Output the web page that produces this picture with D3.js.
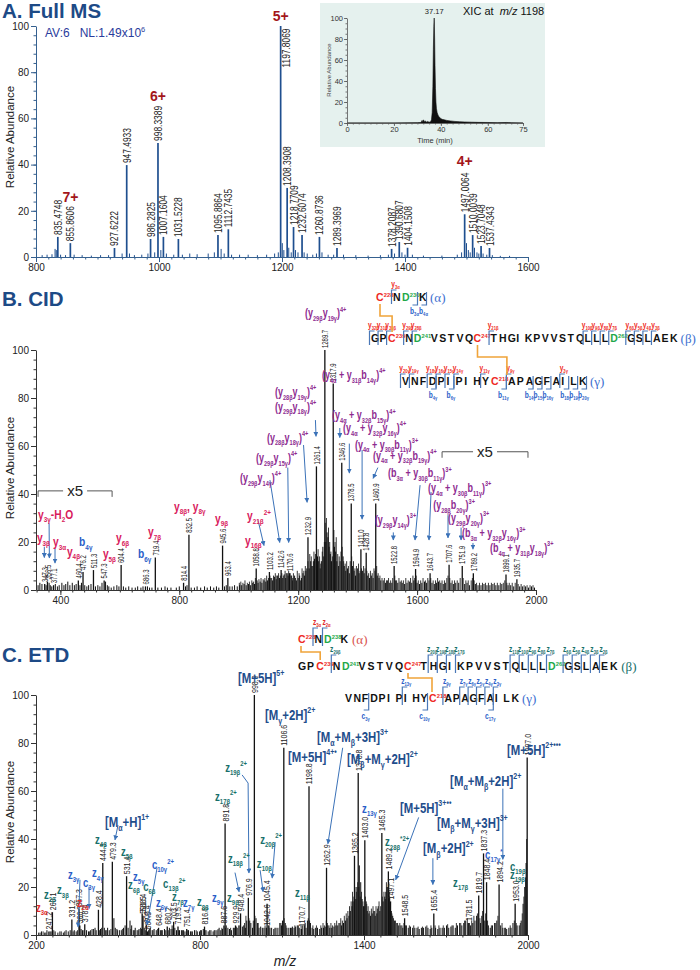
<!DOCTYPE html>
<html><head><meta charset="utf-8">
<script src="https://cdn.jsdelivr.net/npm/d3@7"></script>
<style>
html,body{margin:0;padding:0;background:#fff;}
svg{display:block;font-family:"Liberation Sans",Arial,Helvetica,sans-serif;}
text{white-space:pre;}
</style></head><body>
<svg id="fig" width="700" height="970"></svg>
<script>
// ======================= DATA =======================
// ---- Panel A: Full MS ----
const fullMsTicksX = [800, 1000, 1200, 1400, 1600];
const yTicks = [0, 20, 40, 60, 80, 100];
const fullMsLabels = ["835.4748","855.8606","927.6222","947.4933","986.2825","998.3389","1007.1604","1031.5228","1095.8864","1112.7435","1197.8069","1208.3908","1218.7709","1232.6074","1260.8736","1289.3969","1378.2087","1390.6807","1404.1508","1497.0064","1510.0039","1523.7048","1537.4343"];
const fullMsInt = [8.7, 6, 3.9, 39.8, 7.8, 49.4, 8.7, 7.8, 9.5, 12, 100, 29.9, 13, 9.5, 8.7, 3.9, 3.5, 6.5, 4, 18.5, 9.5, 4.8, 3.9];
const fullMsMinor = [[810,0.8],[818,1],[826,1.2],[831,3.5],[833,3],[840,1],[848,0.8],[862,1],[875,0.8],[890,0.6],[905,0.8],[918,0.8],[940,1.5],[952,1.5],[960,0.8],[972,1],[982,1.5],[993,2],[1003,3],[1012,1.5],[1024,1],[1038,1],[1050,1.5],[1062,1.2],[1080,1.5],[1090,2],[1101,3.5],[1106,1.5],[1118,1],[1131,1],[1145,1],[1160,0.8],[1175,1],[1188,1.5],[1194,2],[1200.5,6],[1203,3],[1211,4],[1215,2],[1222,3],[1226,2],[1236,2],[1241,1.5],[1250,1],[1256,1.5],[1265,2],[1275,1],[1284,1],[1300,1],[1320,0.8],[1340,0.6],[1360,0.8],[1373,1],[1383,1.5],[1395,2],[1400,1],[1412,1],[1430,0.6],[1460,0.6],[1485,1],[1492,2],[1500,6],[1503,3],[1506,2],[1513,4],[1517,2],[1520,1.5],[1527,1.5],[1533,1],[1542,0.8],[1555,0.5],[1570,0.5]];
const fullMsCharge = ["7+", "6+", "5+", "4+"];
const fullMsChargeMz = [855.9, 998.3, 1197.8, 1497.0];
const fullMsChargeY = [23.8, 67.5, 102, 39.4];
// XIC inset
const xicTicksX = [0, 20, 40, 60, 75];
const xicTime = [0,10,20,30,31.5,32,32.3,32.6,33,33.4,33.8,34.3,35,35.6,36,36.3,36.6,36.8,37,37.17,37.35,37.5,37.7,37.9,38.1,38.4,38.8,39.2,39.8,40.5,41.5,42.5,44,46,48,50,53,56,60,64,68,70,75];
const xicInt  = [0,0,0,0.3,0.5,2.5,0.8,3,1.2,2,0.8,1.5,0.8,1.2,3,10,35,70,92,100,80,55,33,20,14,10,7.5,6,4.5,3.5,3,2.5,2,1.5,1.2,1,0.8,0.6,0.5,0.3,0.5,0.2,0];

// ---- Panel B: CID ----
const cidTicksX = [400, 800, 1200, 1600, 2000];
const cidPeakLabels = ["347.3","356.5","377.1","460.4","476.2","511.3","547.3","604.4","686.3","719.4","814.4","832.5","945.6","963.4","1058.8","1103.2","1142.6","1170.6","1232.9","1261.4","1289.7","1317.9","1346.6","1378.5","1411.0","1428.8","1460.9","1522.8","1594.9","1643.7","1707.6","1751.9","1789.2","1899.1","1935.7"];
const cidPeakInt = [2.5,3.5,2,4,7.5,8.3,4,10.4,1.5,13.5,3,23,18.5,5,9,7.5,8.3,7,22,51.5,100,86,53,36,17,15.5,36,10,8.75,7,10.5,10,7,6.5,4.5];
const cidMinor = [[325,2],[331,3],[338,2.5],[352,2],[362,3],[366,2],[371,1.5],[383,2.5],[390,1.5],[396,2],[405,3],[412,2],[418,2.5],[425,3.5],[432,2],[440,3],[447,2],[453,2.5],[466,2],[471,3],[482,2],[489,1.5],[495,2],[503,2.5],[518,1.5],[526,2],[533,1.5],[540,3],[552,3.5],[558,2],[563,1.5],[571,1],[580,1.5],[590,2],[597,1.5],[612,1.5],[620,1],[630,1.5],[641,1],[652,1],[660,1.5],[671,1],[678,1.5],[693,1.5],[700,1],[708,1],[728,1],[740,1],[752,1.5],[760,1],[772,1],[790,1],[800,1.5],[821,1.5],[826,2],[840,1],[851,1],[860,1.5],[872,1],[885,1.5],[894,1],[905,1.5],[916,1],[925,1.5],[933,1],[952,1.5],[958,2],[970,1.5],[978,1.5],[986,2],[995,1.5],[1003,2],[1010,2],[1018,2.5],[1025,2],[1033,2.5],[1040,2],[1047,3],[1053,2.5],[1065,3],[1072,3.5],[1078,3],[1085,4],[1091,3.5],[1097,4],[1108,5],[1114,4],[1120,5.5],[1126,4.5],[1131,6],[1137,5],[1148,5],[1153,6.5],[1158,5],[1163,7],[1166,6],[1176,6],[1182,5],[1188,6],[1194,4],[1200,5],[1205,6],[1211,5],[1216,7],[1221,6],[1226,8],[1229,9],[1237,9],[1242,12],[1246,10],[1251,12],[1255,13],[1265,14],[1269,12],[1274,9],[1278,12],[1283,18],[1286,14],[1293,20],[1297,24],[1300,22],[1304,18],[1308,15],[1312,12],[1322,18],[1326,16],[1330,12],[1336,10],[1341,12],[1351,14],[1355,10],[1360,8],[1366,9],[1372,7],[1383,10],[1388,8],[1393,6],[1400,9],[1405,7],[1416,8],[1422,7],[1434,6],[1440,5],[1446,6],[1452,5],[1466,6],[1472,5],[1478,4],[1486,4],[1494,3],[1500,4],[1508,3],[1515,3],[1528,4],[1535,3],[1543,3.5],[1550,3],[1558,2.5],[1566,3],[1574,3.5],[1582,3],[1589,4],[1600,3],[1608,2.5],[1616,3],[1625,3.5],[1632,3],[1650,3],[1658,2.5],[1665,3],[1672,3.5],[1680,3],[1688,2.5],[1695,3],[1714,3],[1722,2.5],[1730,3],[1740,3],[1760,2.5],[1768,3],[1776,2],[1796,2.5],[1805,2],[1815,2],[1825,2.5],[1835,2],[1845,2],[1855,2.5],[1865,2],[1875,2],[1885,2.5],[1906,2],[1915,2],[1925,1.5],[1945,1.5],[1955,1.5],[1965,1.5],[1975,1],[1985,1.5],[1995,1]];
const cidGrass = [[1002,3],[1007,3.5],[1014,3],[1021,4],[1029,3],[1036,3.5],[1044,4],[1050,3.5],[1056,5],[1062,4],[1068,4.5],[1075,5],[1082,4.5],[1088,5],[1094,6],[1100,5],[1105,6],[1111,5],[1117,6],[1123,7],[1128,6],[1134,7],[1140,6],[1145,7],[1150,6],[1156,8],[1160,7],[1168,8],[1173,7],[1178,6],[1181,4],[1184,7],[1191,5],[1197,8],[1203,7],[1208,4],[1213,9],[1219,8],[1224,10],[1233,12],[1239,15],[1244,14],[1249,10],[1253,16],[1258,15],[1263,12],[1267,17],[1272,14],[1276,11],[1281,16],[1288,20],[1291,28],[1295,30],[1302,26],[1306,20],[1310,16],[1315,14],[1320,25],[1324,20],[1328,22],[1333,15],[1338,14],[1344,16],[1348,18],[1353,12],[1358,11],[1363,12],[1369,10],[1375,12],[1380,14],[1386,12],[1391,9],[1396,10],[1403,11],[1408,8],[1413,9],[1420,10],[1425,9],[1431,8],[1437,7],[1443,8],[1449,7],[1455,9],[1458,8],[1464,10],[1469,7],[1475,6],[1482,5],[1490,5],[1497,4],[1504,5],[1511,4],[1518,5],[1525,6],[1531,4],[1539,5],[1547,4],[1554,4],[1562,5],[1570,4],[1578,5],[1586,6],[1592,5],[1597,6],[1604,4],[1612,4],[1620,5],[1628,4],[1636,5],[1640,4],[1646,5],[1654,4],[1662,4],[1669,5],[1676,4],[1684,4],[1692,4],[1700,5],[1704,6],[1710,5],[1718,4],[1726,4],[1735,4],[1745,5],[1755,5],[1764,4],[1772,4],[1782,4],[1786,5],[1792,4],[1800,3],[1810,3],[1820,3],[1830,3],[1840,3],[1850,3],[1860,3],[1870,3],[1880,3],[1890,3],[1895,4],[1902,3],[1910,3],[1920,3],[1930,3],[1940,2.5],[1950,2.5],[1960,2],[1970,2],[1980,2],[1990,2]];
// annotations: [text, m/z, rel. abundance, colour key]
const cidIonLabels = [
  ["y_{3γ}-H_{2}O",325,29.6,"y"],["y_{3β}",321,20,"y"],["y_{3α}",375,18.3,"y"],["y_{4β}",422,14.2,"y"],
  ["b_{4γ}",463,18.3,"b"],["y_{5β}",543,13.3,"y"],["y_{6β}",587,20,"y"],["b_{6γ}",661,13.3,"b"],
  ["y_{7β}",695,22.5,"y"],["y_{8β}, y_{8γ}",782,33,"y"],["y_{9β}",920,28,"y"],["y_{21β}^{2+}",1028,29,"y"],["y_{16β}",1021,18.8,"y"]];
const cidXlLabels = [
  ["(y_{29β}y_{19γ})^{4+}",1223,113.7],["(y_{4α} + y_{31β}b_{14γ})^{4+}",1280,87.9],["(y_{28β}y_{19γ})^{4+}",1122,80.8],
  ["(y_{29β}y_{18γ})^{4+}",1122,74.6],["(y_{28β}y_{18γ})^{4+}",1095,61.7],["(y_{29β}y_{15γ})^{4+}",1058,53.3],
  ["(y_{29β}y_{14γ})^{4+}",1004,45],["(y_{4α} + y_{32β}b_{15γ})^{4+}",1314,71.2],["(y_{4α} + y_{32β}y_{16γ})^{4+}",1351,65.8],
  ["(y_{4α} + y_{30β}b_{11γ})^{3+}",1391,58.9],["(y_{4α} + y_{32β}b_{19γ})^{4+}",1452,54.2],["(b_{3α} + y_{30β}b_{11γ})^{3+}",1502,47],
  ["(y_{4α} + y_{30β}b_{11γ})^{3+}",1637,40.8],["(y_{28β}b_{20γ})^{3+}",1654,33.7],["(y_{29β}y_{14γ})^{3+}",1458,27.5],
  ["(y_{29β}y_{20γ})^{3+}",1704,28.3],["(b_{3α} + y_{32β}y_{16γ})^{3+}",1751,22],["(b_{4α} + y_{31β}y_{18γ})^{3+}",1845,15.8]];
const cidArrows = [
  [[346,18],[346,13.5]],[[362,28],[363,13.3]],[[382,17.5],[382,11.2]],[[1065,29],[1085,18.5]],
  [[1258,70.8],[1260,64]],[[1218,60.4],[1230,36.5]],[[1165,51],[1168,19.8]],[[1105,45.8],[1138,19.8]],
  [[1340,67.5],[1340,63.5]],[[1372,61],[1372,48.7]],[[1415,58.3],[1415,29.5]],[[1468,51],[1452,46.5]],
  [[1610,43.7],[1593,20.8]],[[1647,40.8],[1640,20.8]],[[1704,31.2],[1704,21.7]],[[1520,24],[1520,20.8]],
  [[1748,26],[1748,20.8]],[[1788,19.6],[1788,17]]];
const cidX5 = [[325,574,41.3],[1684,1973,57.6]];
// sequences (diagrams)
const seqAlpha = "CNDK", seqBeta = "GPCNDVSTVQCTHGIKPVVSTQLLLDGSLAEK", seqGamma = "VNFDPIPIHYCAPAGFAILK";
const supAlphaCid = [[0,"228"],[2,"230"]], supAlphaEtd = [[0,"228"],[2,"238"]];
const supBeta = [[2,"239"],[4,"241"],[10,"247"],[25,"262"]];
const supGamma = [[10,"218"]];
const cidAlphaY = [[1,"3α"]], cidAlphaB = [[2,"3α"],[3,"4α"]];
const cidBetaY = [[0,"32β"],[1,"31β"],[2,"30β"],[3,"29β"],[4,"28β"],[11,"21β"],[22,"10β"],[23,"9β"],[24,"8β"],[25,"7β"],[26,"6β"],[27,"5β"],[28,"4β"],[29,"3β"]];
const cidGammaY = [[0,"20γ"],[1,"19γ"],[3,"18γ"],[4,"16γ"],[5,"15γ"],[6,"14γ"],[9,"11γ"],[11,"9γ"],[17,"3γ"]];
const cidGammaB = [[3,"4γ"],[5,"6γ"],[10,"11γ"],[13,"14γ"],[14,"15γ"],[15,"16γ"],[17,"18γ"],[18,"19γ"],[19,"20γ"]];

// ---- Panel C: ETD ----
const etdTicksX = [200, 800, 1400, 2000];
const etdPeakLabels = ["247.2","260.1","331.2","357.3","360.3","378.4","428.4","444.3","479.3","531.4","588.4","591.5","603.4","607.5","648.4","680.2","703.5","719.5","751.4","816.5","887.6","891.8","929.9","948.4","976.9","998.9","1042.6","1045.4","1106.6","1170.7","1198.8","1262.9","1365.2","1378.8","1403.0","1465.3","1489.2","1497.1","1548.5","1655.4","1781.5","1819.7","1837.3","1848.4","1894.2","1953.0","1997.0"];
const etdPeakInt = [1.5,9.5,6.5,11,4,4.5,10.5,30,30.5,24.5,9,8,4.2,1.5,3,3.5,5.5,3.5,2.5,3.5,4,46.5,4,9,15.5,100,3,13,78,2.5,62,28,33,67.5,39.5,42.5,26.5,14,7,9,5,16.5,34,22,21,13,74];
const etdMinor = [[210,1],[220,1.5],[232,1],[240,2],[252,1.5],[270,1.5],[280,1],[292,1.5],[300,1],[310,2],[318,1.5],[325,2],[340,2],[347,1.5],[365,2.5],[370,2],[385,2],[392,1.5],[400,2],[410,2.5],[416,3],[420,2],[436,2.5],[450,3],[455,2],[462,3],[468,2],[485,7],[490,3],[496,2.5],[505,2],[512,2],[520,3],[526,4],[537,3],[544,6],[550,4],[556,2],[563,3],[570,2],[577,2.5],[583,3],[596,3],[612,2],[618,3],[625,2],[632,2.5],[640,2],[655,2],[662,2],[670,2.5],[675,2],[688,3],[694,2.5],[698,4],[708,3],[714,2],[725,2],[732,2],[740,2],[745,1.5],[758,2],[765,1.5],[772,1.5],[780,2],[790,1.5],[798,1.5],[805,2],[812,2.5],[822,2],[830,1.5],[840,2],[848,1.5],[855,2],[862,2],[870,3],[876,2],[882,2.5],[896,4],[902,3],[908,2.5],[915,2],[922,3],[936,3],[942,4],[955,3.5],[960,4],[966,3],[971,6],[982,6],[986,5],[992,3],[1005,7],[1010,5],[1016,3],[1022,3.5],[1028,3],[1034,3],[1050,4],[1056,3],[1062,3],[1070,2.5],[1078,3],[1085,3],[1092,5],[1098,4],[1102,6],[1112,5],[1118,3],[1125,3],[1131,3],[1138,3.5],[1144,3],[1150,3.5],[1156,4],[1163,3],[1176,4],[1182,4],[1188,3],[1193,6],[1204,5],[1210,3],[1216,2.5],[1222,3],[1230,3],[1238,2.5],[1245,3],[1252,3],[1258,3.5],[1268,4],[1275,3],[1282,3],[1290,3.5],[1297,4],[1304,4],[1312,5],[1318,4],[1325,5],[1332,6],[1338,7],[1345,8],[1350,10],[1356,12],[1360,14],[1370,15],[1374,20],[1383,29],[1388,22],[1393,15],[1398,12],[1408,14],[1412,10],[1418,9],[1424,8],[1430,9],[1436,10],[1441,8],[1447,9],[1452,12],[1458,10],[1470,14],[1476,16],[1480,18],[1484,20],[1492,18],[1494,16],[1500,10],[1505,8],[1512,6],[1520,5],[1527,4],[1535,4],[1542,3],[1555,4],[1562,3],[1570,3.5],[1578,3],[1586,3],[1594,3],[1602,2.5],[1610,3],[1618,3],[1626,3.5],[1634,3],[1642,2.5],[1648,3],[1662,3],[1670,2.5],[1678,3],[1686,3],[1694,3],[1702,4],[1710,3],[1718,3.5],[1726,4],[1734,3],[1742,4],[1750,5],[1758,4],[1765,5],[1772,6],[1790,4],[1798,5],[1806,6],[1812,8],[1826,5],[1831,8],[1842,6],[1855,4],[1862,3],[1870,4],[1878,5],[1886,6],[1900,4],[1908,3],[1915,3],[1922,2.5],[1930,3],[1938,3],[1945,5],[1960,4],[1968,4],[1975,6],[1982,13],[1988,20],[1993,30]];
const etdGrass = [[215,1],[226,1.5],[236,1],[258,1.5],[265,2],[287,1.5],[305,1.5],[336,1.5],[352,2],[375,2],[396,1.5],[405,2.5],[432,2],[440,3],[459,2],[474,2.5],[498,2],[516,2.5],[531,3],[547,2.5],[560,2],[574,2],[586,2.5],[600,2],[615,2.5],[628,2],[645,2.5],[659,2],[684,2],[701,2.5],[722,2],[736,2],[755,2],[768,1.5],[786,2],[802,2],[818,2],[835,2],[852,2],[866,2.5],[880,3],[893,3],[912,3],[926,3],[933,3.5],[946,4],[963,5],[968,8],[979,7],[995,6],[1001,8],[1013,5],[1038,4],[1053,4],[1074,3],[1096,5],[1108,7],[1115,4],[1135,3],[1147,4],[1160,4],[1170,4],[1185,5],[1196,7],[1201,6],[1213,4],[1226,4],[1242,4],[1250,5],[1255,4],[1262,6],[1266,5],[1272,4],[1279,5],[1285,4],[1293,5],[1300,6],[1308,5],[1315,7],[1321,6],[1328,8],[1335,9],[1341,10],[1347,12],[1353,14],[1358,18],[1363,16],[1367,20],[1372,18],[1377,22],[1381,20],[1386,16],[1391,18],[1396,14],[1401,12],[1405,16],[1410,13],[1415,12],[1421,10],[1427,11],[1433,12],[1439,10],[1444,12],[1449,11],[1455,14],[1461,12],[1467,16],[1473,18],[1478,15],[1482,22],[1487,20],[1491,22],[1496,12],[1502,9],[1508,7],[1515,6],[1523,5],[1531,5],[1539,4],[1546,5],[1552,4],[1566,4],[1582,4],[1598,3.5],[1614,3.5],[1630,4],[1645,4],[1660,4],[1674,4],[1690,4],[1706,4.5],[1722,4],[1738,5],[1754,5],[1768,6],[1778,7],[1786,5],[1794,6],[1802,8],[1815,9],[1824,7],[1834,10],[1845,9],[1852,6],[1866,4],[1882,5],[1890,8],[1905,5],[1918,3],[1935,4],[1950,6],[1957,5],[1972,5],[1979,9],[1985,16],[1991,24],[1995,40]];
const etdPrecursorLabels = [
  ["[M+5H]^{5+}",939,105],["[M_{γ}+2H]^{2+}",1038,89.6],["[M_{α}+M_{β}+3H]^{3+}",1228,80.4],["[M+5H]^{4+•}",1122,72],
  ["[M_{β}+M_{γ}+2H]^{2+}",1338,71.3],["[M_{α}+H]^{1+}",452,45],["[M+5H]^{3+••}",1532,51],["[M_{α}+M_{β}+2H]^{2+}",1715,62],
  ["[M_{β}+M_{γ}+3H]^{3+}",1667,44.6],["[M_{β}+2H]^{2+}",1616,34],["[M+5H]^{2+•••}",1923,75]];
const etdIonLabels = [
  ["z_{3α}",200,9.6,"r"],["z_{2β}",229,15,"t"],["z_{3β}",277,17,"t"],["z_{2α}",350,11.7,"r"],["z_{3γ}",317,23.3,"b"],
  ["c_{3γ}",372,20,"b"],["z_{4γ}",405,24,"b"],["z_{4β}",416,38,"t"],["z_{5β}",511,33,"t"],["z_{6β}",537,19,"t"],
  ["z_{5γ}",555,22.5,"b"],["c_{6β}",592,18.3,"t"],["c_{10γ}^{2+}",624,27.5,"b"],["c_{13β}^{2+}",665,19.6,"t"],["z_{6γ}",639,11.7,"b"],
  ["z_{7β}",698,14,"t"],["z_{7γ}",738,11.7,"b"],["z_{8β}",789,12,"t"],["z_{9γ}",844,13.7,"b"],["z_{9β}",899,13.7,"t"],
  ["z_{17β}^{2+}",855,56,"t"],["z_{19β}^{2+}",892,68,"t"],["z_{18β}^{2+}",902,30,"t"],["z_{20β}^{2+}",1020,38,"t"],["z_{10β}",1008,28,"t"],
  ["z_{11β}",1148,16,"t"],["z_{13γ}",1393,51,"b"],["z_{28β}^{*2+}",1477,37,"t"],["z_{17β}",1726,20,"t"],["c_{17γ}^{*}",1843,31.7,"b"],
  ["c_{19β}",1934,26.7,"t"],["z_{19β}",1934,23.3,"t"]];
const etdArrows = [
  [[1322,78],[1268,38]],[[500,45.8],[489,39.6]],[[1600,49],[1516,23]],[[1908,61],[1908,31.5]],[[1652,32],[1652,21]],
  [[954,66.7],[976,63.3],[979,25.8]],[[928,26],[943,18]],[[1075,38.7],[1064,23.7]],[[1020,27],[1031,18]],
  [[643,28],[606,4.2]],[[361,23],[354,3.3]],[[394,20],[394,11]]];
const etdAlphaZ = [[1,"3α"],[2,"2α"]];
const etdBetaZ = [[3,"29β"],[12,"20β"],[13,"19β"],[14,"18β"],[15,"17β"],[21,"11β"],[22,"10β"],[23,"9β"],[24,"8β"],[25,"7β"],[26,"6β"],[27,"5β"],[28,"4β"],[29,"3β"],[30,"2β"]];
const etdGammaZ = [[7,"13γ"],[11,"9γ"],[13,"7γ"],[14,"6γ"],[15,"5γ"],[16,"4γ"],[17,"3γ"]];
const etdGammaC = [[2,"3γ"],[9,"10γ"],[16,"17γ"]];

// ======================= STYLE =======================
const FONT = '"Liberation Sans", Arial, Helvetica, sans-serif';
const COL = {title:"#1d4a86", ms:"#1f4f8f", charge:"#a3161a", av:"#2a3c9c", y:"#d8205c", b:"#2a5ec8",
  purple:"#8d2a90", arrow:"#3b72b8", mblue:"#1f4e8c", teal:"#17706a", zblue:"#2a5ec8", zred:"#e02a2a",
  sred:"#ee2a24", sgreen:"#1fa84a", bracket:"#4a78b8", orange:"#f0a43a"};

const svg = d3.select("#fig");
svg.append("defs").append("marker").attr("id","ah").attr("viewBox","0 0 6 6").attr("refX",5.5).attr("refY",3)
  .attr("markerWidth",5).attr("markerHeight",5).attr("markerUnits","userSpaceOnUse").attr("orient","auto")
  .append("path").attr("d","M0,0L6,3L0,6Z").attr("fill",COL.arrow);

function rich(parent, str, x, y, o) {
  const size = o.size || 12, sx = o.sx || 1;
  const g = parent.append("g").attr("transform", `translate(${x},${y}) scale(${sx},1)`);
  const t = g.append("text").attr("font-size", size).attr("fill", o.color || "#000")
    .attr("font-weight", o.weight || "bold").attr("text-anchor", o.anchor || "start");
  if (o.family) t.attr("font-family", o.family);
  if (o.style) t.attr("font-style", o.style);
  const re = /([_^])\{([^}]*)\}|([^_^]+)/g; let m, cur = 0;
  while ((m = re.exec(str)) !== null) {
    let txt, off, fs;
    if (m[3] !== undefined) { txt = m[3]; off = 0; fs = size; }
    else if (m[1] === "_") { txt = m[2]; off = size * 0.28; fs = size * 0.62; }
    else { txt = m[2]; off = -size * 0.45; fs = size * 0.62; }
    t.append("tspan").attr("dy", (off - cur).toFixed(2)).attr("font-size", fs).text(txt);
    cur = off;
  }
  return g;
}

function drawAxes(g, x, y, o) {
  const y0 = y.range()[0], x0 = x.range()[0];
  const ax = g.append("g").attr("transform", `translate(0,${y0})`)
    .call(d3.axisBottom(x).tickValues(o.xMajor).tickSize(5).tickSizeOuter(0).tickPadding(2).tickFormat(d3.format("d")));
  const axm = g.append("g").attr("transform", `translate(0,${y0})`)
    .call(d3.axisBottom(x).tickValues(o.xMinor).tickSize(2.5).tickSizeOuter(0).tickFormat(""));
  axm.select(".domain").remove();
  const ay = g.append("g").attr("transform", `translate(${x0},0)`)
    .call(d3.axisLeft(y).tickValues(yTicks).tickSize(5).tickSizeOuter(0).tickPadding(2));
  const aym = g.append("g").attr("transform", `translate(${x0},0)`)
    .call(d3.axisLeft(y).tickValues(d3.range(0, 101, 4)).tickSize(2.5).tickSizeOuter(0).tickFormat(""));
  aym.select(".domain").remove();
  [ax, axm, ay, aym].forEach(a => {
    a.attr("font-family", FONT).attr("font-size", o.fs || 10);
    a.selectAll(".domain,.tick line").attr("stroke", o.color).attr("stroke-width", 1);
    a.selectAll(".tick text").attr("fill", "#222");
  });
  g.append("text").attr("transform", `translate(14,${o.ylabY}) rotate(-90)`).attr("text-anchor", "middle")
    .attr("font-size", 11.5).attr("fill", "#222").text("Relative Abundance");
}

function peaks(g, x, y, list, color, w) {
  g.append("g").selectAll("line").data(list).join("line")
    .attr("x1", d => x(d[0])).attr("x2", d => x(d[0])).attr("y1", y(0)).attr("y2", d => y(d[1]))
    .attr("stroke", color).attr("stroke-width", w);
}
function peakLabels(g, x, y, labels, ints, o) {
  labels.forEach((lab, i) => {
    const mz = +lab, h = ints[i];
    let px = x(mz) + o.fs * 0.38, py = y(h) - 2;
    if (h >= 90 && o.side) { px = x(mz) + 5 + o.fs * 0.38; py = y(h - 18); }
    g.append("text").attr("transform", `translate(${px},${py}) rotate(-90) scale(${o.sx},1)`)
      .attr("font-size", o.fs).attr("fill", o.color || "#222").text(lab);
  });
}
function arrows(g, x, y, list) {
  const line = d3.line().x(d => x(d[0])).y(d => y(d[1]));
  g.append("g").selectAll("path").data(list).join("path").attr("d", line)
    .attr("fill", "none").attr("stroke", COL.arrow).attr("stroke-width", 1).attr("marker-end", "url(#ah)");
}

function drawSeq(g, o) {
  const sup = new Map(o.sups), xs = [];
  let x = o.x0, n = o.seq.length;
  for (let i = 0; i < n; i++) {
    const ch = o.seq[i];
    xs.push(x);
    const col = sup.has(i) ? (ch === "C" ? COL.sred : COL.sgreen) : "#111";
    g.append("text").attr("x", x).attr("y", o.y).attr("font-size", o.fs).attr("font-weight", "bold").attr("fill", col).text(ch);
    if (sup.has(i)) g.append("text").attr("x", x + o.fs * 0.74).attr("y", o.y - o.fs * 0.42).attr("font-size", o.fs * 0.55)
      .attr("font-weight", "bold").attr("fill", col).text(sup.get(i));
    x += o.step + (sup.has(i) ? o.supExtra : 0);
  }
  xs.push(x);
  g.append("text").attr("x", x + (o.tailGap || 2)).attr("y", o.y + 1).attr("font-size", o.fs + 2.5).attr("font-family", '"Liberation Serif", serif')
    .attr("fill", o.tailColor).text(o.tail);
  (o.top || []).forEach(([i, lab]) => {
    const bx = xs[i] - 1.5;
    g.append("path").attr("d", `M${bx},${o.y + 3}V${o.y - o.bt}H${bx + 5}`).attr("fill", "none").attr("stroke", COL.bracket).attr("stroke-width", 1.2);
    rich(g, o.topIon + "_{" + lab + "}", bx + 4, o.y - o.bt - 3, {size: o.lfs, color: o.topColor, anchor: "middle", sx: 0.78});
  });
  (o.bot || []).forEach(([i, lab]) => {
    const bx = xs[i + 1] - 1.5;
    g.append("path").attr("d", `M${bx},${o.y - 9}V${o.y + o.bb}H${bx - 5}`).attr("fill", "none").attr("stroke", COL.bracket).attr("stroke-width", 1.2);
    rich(g, o.botIon + "_{" + lab + "}", bx - 3, o.y + o.bb + 9, {size: o.lfs, color: o.botColor, anchor: "middle", sx: 0.78});
  });
  return xs;
}
function orangeLink(g, xa, ya, xb, yb, ymid) {
  g.append("path").attr("d", `M${xa},${ya}V${ymid}H${xb}V${yb}`).attr("fill", "none").attr("stroke", COL.orange).attr("stroke-width", 1.6);
}

// ======================= PANEL A =======================
const gA = svg.append("g");
svg.append("text").attr("x", 2).attr("y", 18).attr("font-size", 20.5).attr("font-weight", "bold").attr("fill", COL.title).text("A. Full MS");
const xA = d3.scaleLinear().domain([800, 1600]).range([36, 528]);
const yA = d3.scaleLinear().domain([0, 100]).range([257, 26]);
drawAxes(gA, xA, yA, {xMajor: fullMsTicksX, xMinor: d3.range(800, 1601, 20), color: "#35608f", ylabY: 137, fs: 10});
peaks(gA, xA, yA, fullMsMinor, COL.ms, 1);
peaks(gA, xA, yA, fullMsLabels.map((l, i) => [+l, fullMsInt[i]]), COL.ms, 1.7);
peakLabels(gA, xA, yA, fullMsLabels, fullMsInt, {fs: 10.5, sx: 0.8, side: true, color: "#222"});
fullMsCharge.forEach((c, i) => gA.append("text").attr("x", xA(fullMsChargeMz[i])).attr("y", yA(fullMsChargeY[i]))
  .attr("text-anchor", "middle").attr("font-size", 14).attr("font-weight", "bold").attr("fill", COL.charge).text(c));
rich(gA, "AV:6   NL:1.49x10^{6}", 45, 37, {size: 12, weight: "normal", color: COL.av});

// XIC inset
const gI = svg.append("g");
gI.append("rect").attr("x", 320).attr("y", 3).attr("width", 225).attr("height", 144).attr("fill", "#e5f1ee");
const xX = d3.scaleLinear().domain([0, 75]).range([347, 523]);
const yX = d3.scaleLinear().domain([0, 100]).range([123, 18]);
gI.append("path").datum(xicTime.map((t, i) => [t, xicInt[i]]))
  .attr("d", d3.area().x(d => xX(d[0])).y0(yX(0)).y1(d => yX(d[1])))
  .attr("fill", "#111").attr("stroke", "#111").attr("stroke-width", 0.6);
const ixa = gI.append("g").attr("transform", `translate(0,${yX(0)})`).call(d3.axisBottom(xX).tickValues(xicTicksX).tickSize(3).tickSizeOuter(0).tickPadding(1));
const ixm = gI.append("g").attr("transform", `translate(0,${yX(0)})`).call(d3.axisBottom(xX).tickValues(d3.range(0, 76, 2.5)).tickSize(1.5).tickFormat(""));
ixm.select(".domain").remove();
const iya = gI.append("g").attr("transform", `translate(${xX(0)},0)`).call(d3.axisLeft(yX).tickValues(yTicks).tickSize(3).tickSizeOuter(0).tickPadding(1));
const iym = gI.append("g").attr("transform", `translate(${xX(0)},0)`).call(d3.axisLeft(yX).tickValues(d3.range(0, 101, 5)).tickSize(1.5).tickFormat(""));
iym.select(".domain").remove();
[ixa, ixm, iya, iym].forEach(a => { a.attr("font-family", FONT).attr("font-size", 7.5);
  a.selectAll(".domain,.tick line").attr("stroke", "#555").attr("stroke-width", 0.8); a.selectAll(".tick text").attr("fill", "#333"); });
gI.append("text").attr("x", xX(37.5)).attr("y", 143).attr("text-anchor", "middle").attr("font-size", 7.5).attr("fill", "#333").text("Time (min)");
gI.append("text").attr("transform", `translate(331,70) rotate(-90)`).attr("text-anchor", "middle").attr("font-size", 6).attr("fill", "#444").text("Relative Abundance");
gI.append("text").attr("x", xX(37.17)).attr("y", yX(100) - 4).attr("text-anchor", "middle").attr("font-size", 7.5).attr("fill", "#222").text("37.17");
const xicT = gI.append("text").attr("x", 463).attr("y", 15).attr("font-size", 11).attr("fill", "#111");
xicT.append("tspan").text("XIC at  "); xicT.append("tspan").attr("font-style", "italic").text("m/z"); xicT.append("tspan").text(" 1198");

// ======================= PANEL B =======================
const gB = svg.append("g");
svg.append("text").attr("x", 2).attr("y", 306).attr("font-size", 20.5).attr("font-weight", "bold").attr("fill", COL.title).text("B. CID");
const xB = d3.scaleLinear().domain([318, 2000]).range([36, 536]);
const yB = d3.scaleLinear().domain([0, 100]).range([590, 350]);
drawAxes(gB, xB, yB, {xMajor: cidTicksX, xMinor: d3.range(320, 2001, 40), color: "#333", ylabY: 468, fs: 10});
peaks(gB, xB, yB, cidGrass, "#222", 0.9);
peaks(gB, xB, yB, cidMinor, "#111", 1);
peaks(gB, xB, yB, cidPeakLabels.map((l, i) => [+l, cidPeakInt[i]]), "#111", 1.3);
peakLabels(gB, xB, yB, cidPeakLabels, cidPeakInt, {fs: 8.5, sx: 0.7, color: "#222"});
cidX5.forEach(([a, b, lv]) => {
  const x1 = xB(a), x2 = xB(b), yy = yB(lv), mid = (x1 + x2) / 2;
  gB.append("path").attr("d", `M${x1},${yy + 6}V${yy}H${mid - 12}M${mid + 12},${yy}H${x2}V${yy + 6}`).attr("fill", "none").attr("stroke", "#555").attr("stroke-width", 1);
  gB.append("text").attr("x", mid).attr("y", yy + 5).attr("text-anchor", "middle").attr("font-size", 15).attr("fill", "#222").text("x5");
});
arrows(gB, xB, yB, cidArrows);
cidIonLabels.forEach(([t, mz, r, k]) => rich(gB, t, xB(mz), yB(r), {size: 12.5, color: k === "y" ? COL.y : COL.b, sx: 0.82}));
cidXlLabels.forEach(([t, mz, r]) => rich(gB, t, xB(mz), yB(r), {size: 12.5, color: COL.purple, sx: 0.72}));

// CID sequence diagram
const gBs = svg.append("g");
const bA = drawSeq(gBs, {seq: seqAlpha, sups: supAlphaCid, x0: 376, y: 301, step: 9, supExtra: 8, fs: 10.5, tail: "(α)", tailColor: "#3d6fd0",
  top: cidAlphaY, bot: cidAlphaB, topIon: "y", botIon: "b", topColor: COL.sred, botColor: COL.b, bt: 11, bb: 4, lfs: 8.5});
const bB = drawSeq(gBs, {seq: seqBeta, sups: supBeta, x0: 371, y: 342, step: 8.55, supExtra: 8.5, fs: 10.5, tail: "(β)", tailColor: "#3d6fd0", tailGap: 0,
  top: cidBetaY, bot: [], topIon: "y", botIon: "b", topColor: COL.sred, botColor: COL.b, bt: 11, bb: 4, lfs: 8.5});
const bG = drawSeq(gBs, {seq: seqGamma, sups: supGamma, x0: 402, y: 385, step: 8.9, supExtra: 8, fs: 10.5, tail: "(γ)", tailColor: "#3d6fd0",
  top: cidGammaY, bot: cidGammaB, topIon: "y", botIon: "b", topColor: COL.sred, botColor: COL.b, bt: 11, bb: 4, lfs: 8.5});
orangeLink(gBs, bA[0] + 4, 304, bB[2] + 4, 332, 316);
orangeLink(gBs, bB[10] + 4, 345, bG[11] - 1, 375, 357);

// ======================= PANEL C =======================
const gC = svg.append("g");
svg.append("text").attr("x", 2).attr("y", 662).attr("font-size", 20.5).attr("font-weight", "bold").attr("fill", COL.title).text("C. ETD");
const xC = d3.scaleLinear().domain([200, 2000]).range([36, 528]);
const yC = d3.scaleLinear().domain([0, 100]).range([935, 695]);
drawAxes(gC, xC, yC, {xMajor: etdTicksX, xMinor: d3.range(200, 2001, 60), color: "#333", ylabY: 812, fs: 10});
gC.append("text").attr("x", 285).attr("y", 966).attr("text-anchor", "middle").attr("font-size", 14).attr("font-style", "italic").attr("fill", "#222").text("m/z");
peaks(gC, xC, yC, etdGrass, "#222", 0.9);
peaks(gC, xC, yC, etdMinor, "#111", 1);
peaks(gC, xC, yC, etdPeakLabels.map((l, i) => [+l, etdPeakInt[i]]), "#111", 1.3);
peakLabels(gC, xC, yC, etdPeakLabels, etdPeakInt, {fs: 9, sx: 0.78, color: "#222"});
arrows(gC, xC, yC, etdArrows);
etdPrecursorLabels.forEach(([t, mz, r]) => rich(gC, t, xC(mz), yC(r), {size: 15, color: COL.mblue, sx: 0.76}));
etdIonLabels.forEach(([t, mz, r, k]) => rich(gC, t, xC(mz), yC(r), {size: 12, color: k === "t" ? COL.teal : k === "r" ? COL.zred : COL.zblue, sx: 0.8}));

// ETD sequence diagram
const gCs = svg.append("g");
const cA = drawSeq(gCs, {seq: seqAlpha, sups: supAlphaEtd, x0: 298, y: 643, step: 9.5, supExtra: 7, fs: 10.5, tail: "(α)", tailColor: "#d9534f",
  top: etdAlphaZ, bot: [], topIon: "z", botIon: "c", topColor: COL.zred, botColor: COL.zblue, bt: 15, bb: 8, lfs: 8.5});
const cB = drawSeq(gCs, {seq: seqBeta, sups: supBeta, x0: 298, y: 670, step: 9.1, supExtra: 7.5, fs: 10.5, tail: "(β)", tailColor: COL.teal,
  top: etdBetaZ, bot: [], topIon: "z", botIon: "c", topColor: COL.teal, botColor: COL.zblue, bt: 15, bb: 8, lfs: 8.5});
const cG = drawSeq(gCs, {seq: seqGamma, sups: supGamma, x0: 345, y: 702, step: 8.4, supExtra: 7, fs: 10.5, tail: "(γ)", tailColor: "#3d6fd0",
  top: etdGammaZ, bot: etdGammaC, topIon: "z", botIon: "c", topColor: COL.zblue, botColor: COL.zblue, bt: 15, bb: 8, lfs: 8.5});
orangeLink(gCs, cA[0] + 3, 646, cB[2] + 4, 660, 652);
orangeLink(gCs, cB[10] + 4, 673, cG[10] + 3, 692, 678);
</script>
</body></html>
